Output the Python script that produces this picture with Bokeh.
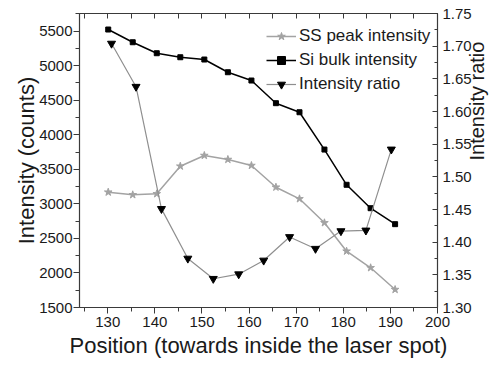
import math

from bokeh.plotting import figure
from bokeh.models import (Range1d, LinearAxis, FixedTicker, NumeralTickFormatter,
                          Legend, LegendItem)
from bokeh.embed import file_html
from bokeh.resources import INLINE

# Measured positions (towards inside the laser spot)
position = [130.1, 135.3, 140.4, 145.4, 150.5, 155.5, 160.5, 165.7, 170.7, 176.0, 180.7, 185.8, 191.0]
ss_peak = [3169, 3131, 3145, 3545, 3700, 3642, 3555, 3241, 3073, 2726, 2315, 2075, 1760]
si_bulk = [5523, 5339, 5180, 5122, 5089, 4905, 4785, 4457, 4326, 3786, 3276, 2937, 2706]

ratio_position = [130.8, 136.0, 141.4, 147.0, 152.4, 157.8, 163.1, 168.6, 174.1, 179.5, 184.8, 190.2]
intensity_ratio = [1.704, 1.638, 1.451, 1.375, 1.344, 1.351, 1.372, 1.408, 1.390, 1.417, 1.418, 1.542]

x_ticks = [130, 140, 150, 160, 170, 180, 190, 200]
x_minor = [125, 135, 145, 155, 165, 175, 185, 195]
y_ticks = [1500, 2000, 2500, 3000, 3500, 4000, 4500, 5000, 5500]
y_minor = [1750, 2250, 2750, 3250, 3750, 4250, 4750, 5250, 5750]
r_ticks = [1.30, 1.35, 1.40, 1.45, 1.50, 1.55, 1.60, 1.65, 1.70, 1.75]
r_minor = [1.325, 1.375, 1.425, 1.475, 1.525, 1.575, 1.625, 1.675, 1.725]

FONT = "Liberation Sans"
TEXT = "#1a1a1a"
AXIS = "#3a3a3a"
SS_COLOR = "#a3a3a3"
RATIO_LINE = "#8f8f8f"

p = figure(width=501, height=368, output_backend="svg", toolbar_location=None,
           x_range=Range1d(124, 200), y_range=Range1d(1500, 5755),
           min_border_left=79, min_border_right=59, min_border_top=13, min_border_bottom=61)
p.extra_y_ranges = {"ratio": Range1d(1.30, 1.75)}
p.xgrid.visible = False
p.ygrid.visible = False
p.outline_line_color = AXIS
p.background_fill_color = "white"
p.border_fill_color = "white"


def style_axis(ax, tick_out, tick_in, minor_out, minor_in):
    ax.axis_line_color = AXIS
    ax.axis_line_width = 1.2
    ax.major_tick_line_color = AXIS
    ax.minor_tick_line_color = AXIS
    ax.major_tick_out = tick_out
    ax.major_tick_in = tick_in
    ax.minor_tick_out = minor_out
    ax.minor_tick_in = minor_in
    ax.major_label_text_font = FONT
    ax.major_label_text_font_size = "15px"
    ax.major_label_text_color = TEXT
    ax.axis_label_text_font = FONT
    ax.axis_label_text_font_size = "22px"
    ax.axis_label_text_font_style = "normal"
    ax.axis_label_text_color = TEXT


# bottom axis
xa = p.xaxis[0]
xa.ticker = FixedTicker(ticks=x_ticks, minor_ticks=x_minor)
xa.axis_label = "Position (towards inside the laser spot)"
style_axis(xa, 6, 0, 4, 0)
xa.major_label_standoff = 3
xa.axis_label_standoff = 3

# left axis
ya = p.yaxis[0]
ya.ticker = FixedTicker(ticks=y_ticks, minor_ticks=y_minor)
ya.axis_label = "Intensity (counts)"
style_axis(ya, 6, 0, 4, 0)
ya.major_label_standoff = 1
ya.axis_label_standoff = -3

# right axis for the ratio; its title reads bottom-to-top like the left one
ra = LinearAxis(y_range_name="ratio", axis_label="Intensity ratio",
                axis_label_orientation=math.pi / 2,
                ticker=FixedTicker(ticks=r_ticks, minor_ticks=r_minor),
                formatter=NumeralTickFormatter(format="0.00"))
style_axis(ra, 0, 5, 0, 3)
ra.axis_label_text_font_size = "20px"
ra.axis_label_text_line_height = 1.0
ra.major_label_standoff = 5
ra.axis_label_standoff = 2
p.add_layout(ra, "right")

# top axis: ticks only
ta = LinearAxis(ticker=FixedTicker(ticks=x_ticks + x_minor, minor_ticks=[]))
style_axis(ta, 0, 5, 0, 0)
ta.major_label_overrides = {t: "" for t in x_ticks + x_minor}
ta.major_label_standoff = 0
p.add_layout(ta, "above")

# series
ss_line = p.line(position, ss_peak, line_color=SS_COLOR, line_width=1.5)
ss_mark = p.scatter(position, ss_peak, marker="star", size=8,
                    fill_color=SS_COLOR, line_color=SS_COLOR)

si_line = p.line(position, si_bulk, line_color="black", line_width=1.5)
si_mark = p.scatter(position, si_bulk, marker="square", size=5,
                    fill_color="black", line_color="black")

r_line = p.line(ratio_position, intensity_ratio, y_range_name="ratio",
                line_color=RATIO_LINE, line_width=1.2)
r_mark = p.scatter(ratio_position, intensity_ratio, y_range_name="ratio",
                   marker="inverted_triangle", size=8,
                   fill_color="black", line_color="black")

legend = Legend(items=[
    LegendItem(label="SS peak intensity", renderers=[ss_line, ss_mark]),
    LegendItem(label="Si bulk intensity", renderers=[si_line, si_mark]),
    LegendItem(label="Intensity ratio", renderers=[r_line, r_mark]),
], location=(187, 213))
legend.label_text_font = FONT
legend.label_text_font_size = "17px"
legend.label_text_color = TEXT
legend.glyph_width = 30
legend.glyph_height = 20
legend.label_height = 20
legend.spacing = 4
legend.label_standoff = 3
legend.padding = 6
legend.margin = 0
legend.border_line_color = None
legend.background_fill_alpha = 0
p.add_layout(legend, "center")

open("out.html", "w").write(file_html(p, INLINE))
